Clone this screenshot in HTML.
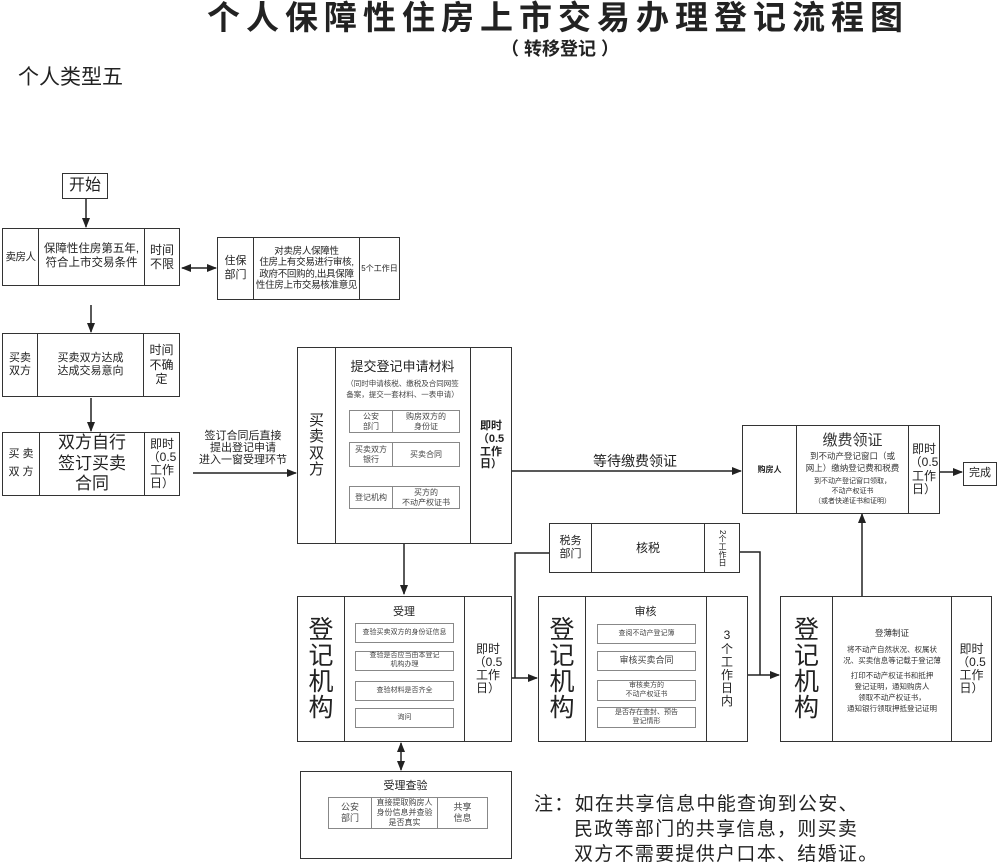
<!DOCTYPE html>
<html><head><meta charset="utf-8"><style>
*{margin:0;padding:0;box-sizing:border-box}
body{width:1000px;height:861px;background:#fff;position:relative;overflow:hidden;font-family:"Liberation Sans","Noto Sans CJK SC",sans-serif;color:#222}
.a{position:absolute}
.box{position:absolute;border:1.5px solid #333;display:flex;background:#fff}
.c{display:flex;align-items:center;justify-content:center;text-align:center;line-height:1.2;white-space:nowrap}
.c+.c{border-left:1.5px solid #333}
.ib{position:absolute;border:1px solid #888;display:flex;align-items:center;justify-content:center;text-align:center;font-size:7px;line-height:1.25;color:#444}
.t{position:absolute;display:flex;border:1px solid #888}
.t>div{display:flex;align-items:center;justify-content:center;text-align:center;font-size:8px;line-height:1.25;color:#444}
.t>div+div{border-left:1px solid #888}
</style></head><body>
<div class="a" style="left:198px;top:0px;width:720px;text-align:center;font-size:33px;font-weight:bold;letter-spacing:6px;line-height:36px">个人保障性住房上市交易办理登记流程图</div>
<div class="a" style="left:490px;top:37px;width:140px;text-align:center;font-size:18px;font-weight:bold;line-height:24px">（ 转移登记 ）</div>
<div class="a" style="left:18px;top:65px;font-size:21px;line-height:26px">个人类型五</div>

<svg class="a" style="left:0;top:0" width="1000" height="861">
<defs><marker id="m" markerWidth="10" markerHeight="8" refX="9" refY="4" orient="auto" markerUnits="userSpaceOnUse"><path d="M0,0L10,4L0,8z" fill="#222"/></marker>
<marker id="s" markerWidth="10" markerHeight="8" refX="1" refY="4" orient="auto" markerUnits="userSpaceOnUse"><path d="M10,0L0,4L10,8z" fill="#222"/></marker></defs>
<g stroke="#222" stroke-width="1.5" fill="none">
<line x1="86" y1="198" x2="86" y2="227" marker-end="url(#m)"/>
<line x1="182" y1="268" x2="216" y2="268" marker-start="url(#s)" marker-end="url(#m)"/>
<line x1="91" y1="305" x2="91" y2="332" marker-end="url(#m)"/>
<line x1="91" y1="398" x2="91" y2="431" marker-end="url(#m)"/>
<line x1="193" y1="473" x2="296" y2="473" marker-end="url(#m)"/>
<line x1="512" y1="471" x2="741" y2="471" marker-end="url(#m)"/>
<line x1="940" y1="472" x2="962" y2="472" marker-end="url(#m)"/>
<line x1="404" y1="543" x2="404" y2="594" marker-end="url(#m)"/>
<line x1="401" y1="743" x2="401" y2="770" marker-start="url(#s)" marker-end="url(#m)"/>
<polyline points="549,553 515,553 515,678"/>
<line x1="512" y1="678" x2="537" y2="678" marker-end="url(#m)"/>
<polyline points="740,552 760,552 760,675"/>
<line x1="748" y1="675" x2="779" y2="675" marker-end="url(#m)"/>
<line x1="862" y1="596" x2="862" y2="514" marker-end="url(#m)"/>
</g></svg>

<div class="box" style="left:62px;top:173px;width:46px;height:26px;font-size:16px"><div class="c" style="flex:1">开始</div></div>

<div class="box" style="left:2px;top:228px;width:178px;height:58px;font-size:12px">
<div class="c" style="width:35px;font-size:10.5px;letter-spacing:-0.5px">卖房人</div><div class="c" style="width:106px;font-size:11.5px">保障性住房第五年,<br>符合上市交易条件</div><div class="c" style="flex:1">时间<br>不限</div></div>

<div class="box" style="left:217px;top:237px;width:183px;height:63px;font-size:9.5px">
<div class="c" style="width:35px;font-size:11px">住保<br>部门</div><div class="c" style="width:106px;letter-spacing:-0.3px">对卖房人保障性<br>住房上有交易进行审核,<br>政府不回购的,出具保障<br>性住房上市交易核准意见</div><div class="c" style="flex:1;font-size:8px">5个工作日</div></div>

<div class="box" style="left:2px;top:333px;width:178px;height:64px;font-size:11px">
<div class="c" style="width:34px">买卖<br>双方</div><div class="c" style="width:106px">买卖双方达成<br>达成交易意向</div><div class="c" style="flex:1;font-size:12px">时间<br>不确<br>定</div></div>

<div class="box" style="left:2px;top:432px;width:178px;height:64px">
<div class="c" style="width:36px;font-size:11px;line-height:1.6">买 卖<br>双 方</div><div class="c" style="width:105px;font-size:17px;line-height:1.2">双方自行<br>签订买卖<br>合同</div><div class="c" style="flex:1;font-size:12px;line-height:1.1">即时<br>（0.5<br>工作<br>日）</div></div>

<div class="a" style="left:193px;top:430px;width:100px;text-align:center;font-size:11px;line-height:12px">签订合同后直接<br>提出登记申请<br>进入一窗受理环节</div>

<div class="box" style="left:297px;top:347px;width:215px;height:197px">
<div class="c" style="width:37px;font-size:15px;line-height:1.1">买<br>卖<br>双<br>方</div>
<div style="width:135px;position:relative;border-left:1.5px solid #333">
<div class="a" style="left:0;top:8px;width:133px;text-align:center;font-size:13px">提交登记申请材料</div>
<div class="a" style="left:0;top:30px;width:133px;text-align:center;font-size:7.5px;line-height:11px;color:#444">（同时申请核税、缴税及合同网签<br>备案，提交一套材料、一表申请）</div>
<div class="t" style="left:13px;top:62px;width:111px;height:23px"><div style="width:42px">公安<br>部门</div><div style="flex:1">购房双方的<br>身份证</div></div>
<div class="t" style="left:13px;top:94px;width:111px;height:25px"><div style="width:42px">买卖双方<br>银行</div><div style="flex:1">买卖合同</div></div>
<div class="t" style="left:13px;top:138px;width:111px;height:23px"><div style="width:42px">登记机构</div><div style="flex:1">买方的<br>不动产权证书</div></div>
</div>
<div class="c" style="flex:1;font-size:11px;font-weight:bold;line-height:1.15;border-left:1.5px solid #333">即时<br>（0.5<br>工作<br>日）</div></div>

<div class="a" style="left:560px;top:451px;width:150px;text-align:center;font-size:14px">等待缴费领证</div>

<div class="box" style="left:742px;top:425px;width:198px;height:89px">
<div class="c" style="width:53px;font-size:8px;font-weight:bold">购房人</div>
<div style="width:112px;border-left:1.5px solid #333;text-align:center;color:#333">
<div style="font-size:15px;margin-top:3px">缴费领证</div>
<div style="font-size:8.5px;line-height:12px">到不动产登记窗口（或<br>网上）缴纳登记费和税费</div>
<div style="font-size:7px;line-height:10px;margin-top:3px">到不动产登记窗口领取，<br>不动产权证书<br>（或者快递证书和证明）</div></div>
<div class="c" style="flex:1;font-size:12px;line-height:1.1;border-left:1.5px solid #333">即时<br>（0.5<br>工作<br>日）</div></div>

<div class="box" style="left:963px;top:462px;width:34px;height:24px;font-size:11px"><div class="c" style="flex:1">完成</div></div>

<div class="box" style="left:549px;top:523px;width:191px;height:50px">
<div class="c" style="width:41px;font-size:11px">税务<br>部门</div><div class="c" style="width:113px;font-size:12px">核税</div><div class="c" style="flex:1;font-size:8px;line-height:1"><span style="writing-mode:vertical-rl">2个工作日</span></div></div>

<div class="box" style="left:297px;top:596px;width:215px;height:146px">
<div class="c" style="width:46px;font-size:25px;line-height:1.05">登<br>记<br>机<br>构</div>
<div style="width:120px;position:relative;border-left:1.5px solid #333">
<div class="a" style="left:0;top:6px;width:118px;text-align:center;font-size:11px">受理</div>
<div class="ib" style="left:10px;top:26px;width:99px;height:20px">查验买卖双方的身份证信息</div>
<div class="ib" style="left:10px;top:54px;width:99px;height:20px">查验是否应当由本登记<br>机构办理</div>
<div class="ib" style="left:10px;top:84px;width:99px;height:20px">查验材料是否齐全</div>
<div class="ib" style="left:10px;top:111px;width:99px;height:20px">询问</div></div>
<div class="c" style="flex:1;font-size:12px;line-height:1.1;border-left:1.5px solid #333">即时<br>（0.5<br>工作<br>日）</div></div>

<div class="box" style="left:300px;top:771px;width:212px;height:88px;display:block">
<div class="a" style="left:0;top:5px;width:209px;text-align:center;font-size:11px">受理查验</div>
<div class="t" style="left:27px;top:25px;width:160px;height:32px"><div style="width:42px;font-size:9px">公安<br>部门</div><div style="width:66px">直接提取购房人<br>身份信息并查验<br>是否真实</div><div style="flex:1;font-size:9px">共享<br>信息</div></div></div>

<div class="box" style="left:538px;top:596px;width:210px;height:146px">
<div class="c" style="width:46px;font-size:25px;line-height:1.05">登<br>记<br>机<br>构</div>
<div style="width:121px;position:relative;border-left:1.5px solid #333">
<div class="a" style="left:0;top:6px;width:119px;text-align:center;font-size:11px">审核</div>
<div class="ib" style="left:11px;top:27px;width:99px;height:20px">查阅不动产登记簿</div>
<div class="ib" style="left:11px;top:54px;width:99px;height:20px;font-size:9px">审核买卖合同</div>
<div class="ib" style="left:11px;top:83px;width:99px;height:21px">审核卖方的<br>不动产权证书</div>
<div class="ib" style="left:11px;top:110px;width:99px;height:21px">是否存在查封、预告<br>登记情形</div></div>
<div class="c" style="flex:1;font-size:12px;line-height:1.1;border-left:1.5px solid #333">3<br>个<br>工<br>作<br>日<br>内</div></div>

<div class="box" style="left:780px;top:596px;width:212px;height:146px">
<div class="c" style="width:51px;font-size:25px;line-height:1.05">登<br>记<br>机<br>构</div>
<div style="width:119px;border-left:1.5px solid #333;text-align:center;color:#333;padding-top:30px">
<div style="font-size:8.5px">登薄制证</div>
<div style="font-size:7.5px;line-height:11px;margin-top:5px">将不动产自然状况、权属状<br>况、买卖信息等记载于登记薄</div>
<div style="font-size:7.5px;line-height:11px;margin-top:4px">打印不动产权证书和抵押<br>登记证明，通知购房人<br>领取不动产权证书，<br>通知银行领取押抵登记证明</div></div>
<div class="c" style="flex:1;font-size:12px;line-height:1.1;border-left:1.5px solid #333">即时<br>（0.5<br>工作<br>日）</div></div>

<div class="a" style="left:534px;top:792px;font-size:19px;letter-spacing:1.3px;line-height:25px;white-space:nowrap">注：如在共享信息中能查询到公安、<br><span style="padding-left:40px">民政等部门的共享信息，则买卖</span><br><span style="padding-left:40px">双方不需要提供户口本、结婚证。</span></div>
</body></html>
